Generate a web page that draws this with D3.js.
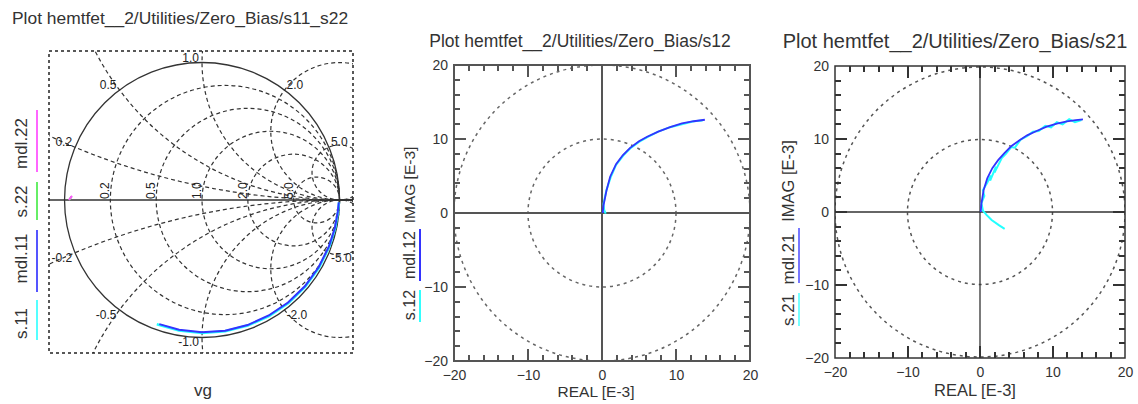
<!DOCTYPE html>
<html>
<head>
<meta charset="utf-8">
<script src="https://cdn.jsdelivr.net/npm/d3@7"></script>
<style>
body { margin: 0; background: #fff; }
text { font-family: "Liberation Sans", Arial, sans-serif; fill: #333; }
</style>
</head>
<body>
<svg id="chart"></svg>
<script>
// smith chart grid
var smithCircles = [0.2, 0.5, 1.0, 2.0, 5.0]
var smithLabels = ["0.2", "0.5", "1.0", "2.0", "5.0"]

// s11 / mdl11 / s22 / mdl22 as magnitude + angle (deg)
var mdl11Ang = [-109, -100, -90, -80, -70, -60, -50, -40, -30, -20, -12, -5, -1]
var mdl11Mag = [0.955, 0.958, 0.962, 0.965, 0.968, 0.97, 0.973, 0.976, 0.979, 0.983, 0.987, 0.991, 0.995]
var s11Ang = [-110, -100, -90, -80, -70, -60, -50, -40, -30, -20, -12, -5, -1]
var s11Mag = [0.962, 0.965, 0.968, 0.97, 0.972, 0.975, 0.978, 0.98, 0.983, 0.986, 0.99, 0.993, 0.996]
var mdl22Ang = [180, 178.2]
var mdl22Mag = [0.968, 0.946]
var s22Ang = [180, 178.5]
var s22Mag = [0.966, 0.95]

// s12 / s21 in E-3
var mdl12Re = [0.1, 0.2, 0.6, 1.1, 1.9, 2.8, 3.8, 5.0, 6.1, 7.6, 9.2, 10.8, 12.4, 13.9]
var mdl12Im = [0.0, 1.0, 3.0, 4.9, 6.6, 7.8, 8.8, 9.7, 10.3, 11.0, 11.6, 12.1, 12.4, 12.6]
var s12Re = [0.5, 0.3, 0.2, 0.6, 1.2, 1.9, 2.9, 3.9, 5.0, 6.2, 7.6, 9.2, 10.8, 12.4, 13.6]
var s12Im = [-0.1, 0.4, 1.2, 3.1, 4.9, 6.5, 7.8, 8.8, 9.6, 10.3, 11.0, 11.6, 12.0, 12.4, 12.5]

var mdl21Re = [0.1, 0.2, 0.5, 1.0, 1.7, 2.5, 3.4, 4.3, 5.4, 6.5, 7.8, 9.2, 10.6, 12.0, 13.2, 14.2]
var mdl21Im = [0.0, 1.2, 3.0, 4.6, 6.0, 7.1, 8.1, 9.0, 9.8, 10.5, 11.1, 11.7, 12.1, 12.4, 12.6, 12.7]
var s21Re = [3.4, 2.6, 1.6, 0.9, 0.4, 0.2, 0.6, 0.4, 1.0, 1.5, 1.4, 2.2, 2.0, 3.0, 3.6, 4.3, 4.8, 5.6, 6.5, 7.3, 8.1, 9.0, 9.8, 10.6, 11.4, 12.3, 13.1, 14.0]
var s21Im = [-2.3, -1.8, -1.1, -0.4, 0.2, 1.2, 2.2, 3.0, 4.0, 5.0, 4.3, 6.2, 5.4, 7.4, 8.0, 8.9, 8.8, 9.9, 10.4, 11.0, 11.1, 11.8, 11.6, 12.3, 12.0, 12.7, 12.3, 12.6]

var axisTicks = [-20, -10, 0, 10, 20]
var majorTicks = [-10, 0, 10]
var minorTicks = [-18, -16, -14, -12, -8, -6, -4, -2, 2, 4, 6, 8, 12, 14, 16, 18]
var circleRadii = [10, 20]

var legendLeft = ["s.11", "mdl.11", "s.22", "mdl.22"]

var width = 1138, height = 404
var svg = d3.select("#chart").attr("width", width).attr("height", height)
svg.append("rect").attr("width", width).attr("height", height).attr("fill", "#fff")
var defs = svg.append("defs")

// ---------- Smith chart ----------
var sx = d3.scaleLinear().domain([-1.113, 1.098]).range([49, 353])
var sy = d3.scaleLinear().domain([-1.113, 1.084]).range([353, 51])
var k = sx(1) - sx(0)

defs.append("clipPath").attr("id", "smithClip").append("rect")
    .attr("x", 49).attr("y", 51).attr("width", 304).attr("height", 302)

var grid = svg.append("g").attr("clip-path", "url(#smithClip)")
    .attr("fill", "none").attr("stroke", "#333").attr("stroke-width", 1.2)
    .attr("stroke-dasharray", "4,3")

grid.selectAll(".res").data(smithCircles).enter().append("circle")
    .attr("cx", r => sx(r / (1 + r))).attr("cy", sy(0)).attr("r", r => k / (1 + r))

var react = smithCircles.flatMap(x => [x, -x])
grid.selectAll(".rea").data(react).enter().append("circle")
    .attr("cx", sx(1)).attr("cy", x => sy(1 / x)).attr("r", x => k / Math.abs(x))

svg.append("circle").attr("cx", sx(0)).attr("cy", sy(0)).attr("r", k)
    .attr("fill", "none").attr("stroke", "#333").attr("stroke-width", 1.3)
svg.append("line").attr("x1", sx(-1.113)).attr("x2", sx(1.098)).attr("y1", sy(0)).attr("y2", sy(0))
    .attr("stroke", "#333").attr("stroke-width", 1.6)
svg.append("rect").attr("x", 49).attr("y", 51).attr("width", 304).attr("height", 302)
    .attr("fill", "none").attr("stroke", "#222").attr("stroke-width", 1.5).attr("stroke-dasharray", "3,3")

// reactance labels
smithCircles.forEach(function (x, i) {
    [1, -1].forEach(function (sgn) {
        var xx = x * sgn
        var gx = (xx * xx - 1) / (xx * xx + 1), gy = 2 * xx / (xx * xx + 1)
        svg.append("text")
            .attr("x", sx(gx) + (gx <= 0.001 ? -3 : 2))
            .attr("y", sy(gy) + (sgn > 0 ? -1 : 9))
            .attr("text-anchor", gx <= 0.001 ? "end" : "start")
            .attr("font-size", 12).style("fill", "#222")
            .text((sgn < 0 ? "-" : "") + smithLabels[i])
    })
})
// resistance labels
smithCircles.forEach(function (r, i) {
    var px = sx((r - 1) / (r + 1))
    svg.append("text")
        .attr("transform", "translate(" + (px - 1) + "," + (sy(0) - 1) + ") rotate(-90)")
        .attr("font-size", 12).style("fill", "#222")
        .text(smithLabels[i])
})

var smithLine = d3.line()
    .x(d => sx(d[0] * Math.cos(d[1] * Math.PI / 180)))
    .y(d => sy(d[0] * Math.sin(d[1] * Math.PI / 180)))
function polarPts(mag, ang) { return mag.map((m, i) => [m, ang[i]]) }

svg.append("path").datum(polarPts(s11Mag, s11Ang)).attr("d", smithLine)
    .attr("fill", "none").attr("stroke", "#2ff").attr("stroke-width", 2.5)
svg.append("path").datum(polarPts(mdl11Mag, mdl11Ang)).attr("d", smithLine)
    .attr("fill", "none").attr("stroke", "#33f").attr("stroke-width", 2)
svg.append("path").datum(polarPts(s22Mag, s22Ang)).attr("d", smithLine)
    .attr("fill", "none").attr("stroke", "#4e4").attr("stroke-width", 2)
svg.append("path").datum(polarPts(mdl22Mag, mdl22Ang)).attr("d", smithLine)
    .attr("fill", "none").attr("stroke", "#f5f").attr("stroke-width", 2)

// left legend
var leftLegendY = [323.5, 258.5, 201.5, 143.5]
var leftBars = [[300, 340], [230, 292], [182, 220], [110, 172]]
var leftColors = ["#5ff", "#55f", "#6e6", "#f6f"]
legendLeft.forEach(function (t, i) {
    svg.append("text").attr("transform", "translate(27," + leftLegendY[i] + ") rotate(-90)")
        .attr("text-anchor", "middle").attr("font-size", 17).text(t)
    svg.append("line").attr("x1", 37).attr("x2", 37).attr("y1", leftBars[i][0]).attr("y2", leftBars[i][1])
        .attr("stroke", leftColors[i]).attr("stroke-width", 2)
})
svg.append("text").attr("x", 12).attr("y", 24).attr("font-size", 17.4)
    .text("Plot hemtfet__2/Utilities/Zero_Bias/s11_s22")
svg.append("text").attr("x", 203).attr("y", 396).attr("text-anchor", "middle").attr("font-size", 17).text("vg")

// ---------- polar plots ----------
function drawPolar(cfg) {
    var x = d3.scaleLinear().domain([-20, 20]).range([cfg.left, cfg.right])
    var y = d3.scaleLinear().domain([-20, 20]).range([cfg.bottom, cfg.top])
    var g = svg.append("g")
    var clipId = "clip" + cfg.id
    defs.append("clipPath").attr("id", clipId).append("rect")
        .attr("x", cfg.left).attr("y", cfg.top)
        .attr("width", cfg.right - cfg.left).attr("height", cfg.bottom - cfg.top)

    g.append("g").attr("clip-path", "url(#" + clipId + ")")
        .selectAll("circle").data(circleRadii).enter().append("circle")
        .attr("cx", x(0)).attr("cy", y(0)).attr("r", d => x(d) - x(0))
        .attr("fill", "none").attr("stroke", cfg.dashColor).attr("stroke-width", 1.5)
        .attr("stroke-dasharray", "3,4")

    g.append("line").attr("x1", x(0)).attr("x2", x(0)).attr("y1", cfg.top).attr("y2", cfg.bottom)
        .attr("stroke", cfg.lineColor).attr("stroke-width", cfg.axisWidth)
    g.append("line").attr("x1", cfg.left).attr("x2", cfg.right).attr("y1", y(0)).attr("y2", y(0))
        .attr("stroke", cfg.lineColor).attr("stroke-width", cfg.axisWidth)
    g.append("rect").attr("x", cfg.left).attr("y", cfg.top)
        .attr("width", cfg.right - cfg.left).attr("height", cfg.bottom - cfg.top)
        .attr("fill", "none").attr("stroke", cfg.lineColor).attr("stroke-width", cfg.frameWidth)

    // inward ticks on all four sides, one path
    var p = d3.path()
    function tickSet(vals, len) {
        vals.forEach(function (v) {
            var px = Math.round(x(v)), py = Math.round(y(v))
            p.moveTo(px, cfg.bottom); p.lineTo(px, cfg.bottom - len)
            p.moveTo(px, cfg.top); p.lineTo(px, cfg.top + len)
            p.moveTo(cfg.left, py); p.lineTo(cfg.left + len, py)
            p.moveTo(cfg.right, py); p.lineTo(cfg.right - len, py)
        })
    }
    tickSet(minorTicks, 6)
    tickSet(majorTicks, 12)
    svg.append("path").attr("d", p.toString())
        .attr("fill", "none").attr("stroke", cfg.lineColor).attr("stroke-width", 2)
        .attr("shape-rendering", "crispEdges")

    // tick labels
    var xl = g.append("g").attr("transform", "translate(0," + cfg.bottom + ")")
        .call(d3.axisBottom(x).tickValues(axisTicks).tickSize(0).tickPadding(9))
    var yl = g.append("g").attr("transform", "translate(" + cfg.left + ",0)")
        .call(d3.axisLeft(y).tickValues(axisTicks).tickSize(0).tickPadding(6))
    xl.select(".domain").remove()
    yl.select(".domain").remove()
    g.selectAll(".tick text").attr("font-size", 14).attr("font-family", null).style("fill", "#333")

    var line = d3.line().x(d => x(d[0])).y(d => y(d[1]))
    g.append("path").datum(cfg.sRe.map((v, i) => [v, cfg.sIm[i]])).attr("d", line)
        .attr("fill", "none").attr("stroke", "#2ff").attr("stroke-width", 2)
    g.append("path").datum(cfg.mRe.map((v, i) => [v, cfg.mIm[i]])).attr("d", line)
        .attr("fill", "none").attr("stroke", "#33f").attr("stroke-width", 1.8)

    svg.append("text").attr("x", cfg.titleX).attr("y", cfg.titleY).attr("text-anchor", "middle")
        .attr("font-size", cfg.titleSize).text(cfg.title)
    svg.append("text").attr("x", cfg.xLabelX).attr("y", cfg.xLabelY).attr("text-anchor", "middle")
        .attr("font-size", cfg.labelSize).text("REAL [E-3]")

    var legTexts = ["IMAG [E-3]", cfg.legend[0], cfg.legend[1]]
    legTexts.forEach(function (t, i) {
        svg.append("text").attr("transform", "translate(" + cfg.legX + "," + cfg.legY[i] + ") rotate(-90)")
            .attr("text-anchor", "middle").attr("font-size", i == 0 ? cfg.labelSize : cfg.legSize).text(t)
    })
    svg.append("line").attr("x1", cfg.barX).attr("x2", cfg.barX).attr("y1", cfg.blueBar[0]).attr("y2", cfg.blueBar[1])
        .attr("stroke", cfg.barBlue).attr("stroke-width", 2)
    svg.append("line").attr("x1", cfg.barX).attr("x2", cfg.barX).attr("y1", cfg.cyanBar[0]).attr("y2", cfg.cyanBar[1])
        .attr("stroke", cfg.barCyan).attr("stroke-width", 2)
}

drawPolar({
    id: "s12", left: 454, right: 750, top: 65, bottom: 361,
    lineColor: "#555", dashColor: "#666", axisWidth: 2, frameWidth: 2,
    sRe: s12Re, sIm: s12Im, mRe: mdl12Re, mIm: mdl12Im,
    title: "Plot hemtfet__2/Utilities/Zero_Bias/s12", titleX: 580, titleY: 47, titleSize: 17.5,
    xLabelX: 596, xLabelY: 397, labelSize: 15.5,
    legend: ["mdl.12", "s.12"], legX: 415, legY: [185, 255, 305], legSize: 16,
    barX: 420, blueBar: [229, 281], cyanBar: [290, 322], barBlue: "#33f", barCyan: "#3ff"
})

drawPolar({
    id: "s21", left: 835, right: 1125, top: 66, bottom: 358,
    lineColor: "#333", dashColor: "#555", axisWidth: 1.3, frameWidth: 1.5,
    sRe: s21Re, sIm: s21Im, mRe: mdl21Re, mIm: mdl21Im,
    title: "Plot hemtfet__2/Utilities/Zero_Bias/s21", titleX: 955, titleY: 48, titleSize: 20,
    xLabelX: 975, xLabelY: 396, labelSize: 16.5,
    legend: ["mdl.21", "s.21"], legX: 794, legY: [181, 259, 310], legSize: 17,
    barX: 799, blueBar: [228, 283], cyanBar: [293, 326], barBlue: "#77f", barCyan: "#7ff"
})
</script>
</body>
</html>
